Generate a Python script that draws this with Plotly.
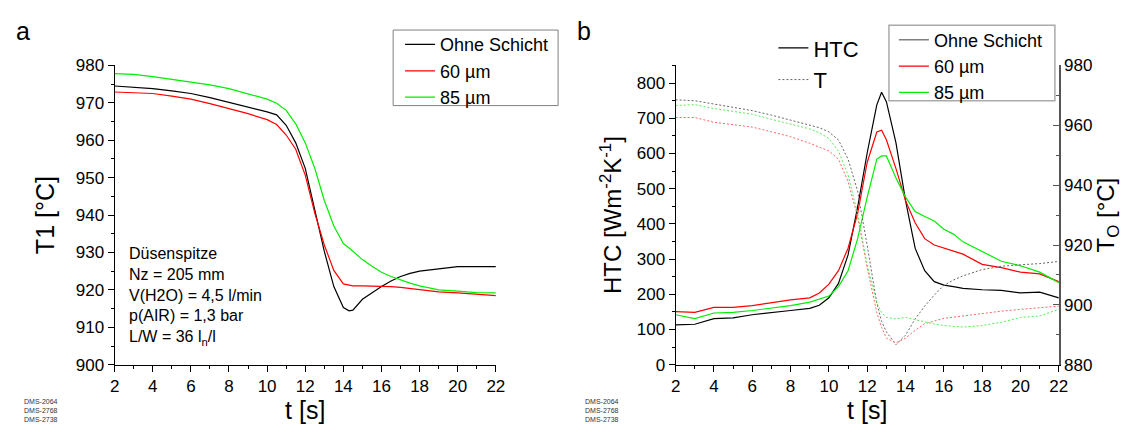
import plotly.graph_objects as go

# ---------------- Panel a: T1 vs t ----------------
t_a = [2, 3, 4, 5, 6, 7, 8, 9, 10, 10.5, 11, 11.5, 12, 12.5, 13, 13.5, 14, 14.3, 14.5, 15, 15.5, 16, 16.5, 17, 17.5, 18, 19, 20, 21, 22]
t1_ohne = [974.5, 974.2, 973.8, 973.2, 972.5, 971.4, 970.1, 969.0, 967.6, 966.8, 964.0, 959.3, 952.5, 941.4, 930.3, 920.9, 915.3, 914.4, 914.6, 917.5, 919.3, 920.9, 922.4, 923.6, 924.4, 925.0, 925.6, 926.2, 926.2, 926.2]
t1_60 = [972.9, 972.8, 972.5, 971.8, 971.0, 969.8, 968.5, 967.1, 965.5, 964.2, 961.4, 957.6, 950.7, 940.5, 932.0, 925.2, 921.6, 921.2, 921.1, 921.1, 921.1, 921.1, 920.9, 920.7, 920.4, 920.0, 919.5, 919.2, 918.9, 918.5]
t1_85 = [977.8, 977.6, 977.0, 976.3, 975.6, 974.8, 973.8, 972.5, 971.0, 969.9, 968.0, 964.4, 959.3, 952.5, 943.9, 937.1, 932.4, 931.2, 930.3, 928.1, 926.3, 924.7, 923.6, 922.6, 921.8, 921.1, 920.0, 919.7, 919.3, 919.2]

# ---------------- Panel b: HTC and T_O vs t ----------------
t_b = [2, 3, 4, 5, 6, 7, 8, 9, 9.5, 10, 10.5, 11, 11.5, 12, 12.5, 12.75, 13, 13.5, 14, 14.5, 15, 15.5, 16, 16.5, 17, 18, 19, 20, 21, 22]
htc_ohne = [113, 115, 131, 133, 142, 149, 154, 160, 169, 190, 231, 312, 448, 602, 738, 774, 747, 630, 466, 331, 267, 236, 226, 222, 217, 213, 211, 204, 206, 190]
htc_60 = [151, 149, 163, 163, 168, 177, 184, 190, 204, 229, 267, 331, 430, 575, 661, 666, 639, 557, 466, 403, 358, 340, 331, 323, 314, 285, 276, 263, 258, 236]
htc_85 = [142, 131, 147, 149, 154, 160, 168, 178, 186, 195, 222, 267, 358, 476, 584, 593, 593, 530, 476, 435, 421, 408, 385, 371, 349, 322, 294, 281, 263, 233]
to_ohne = [968.5, 968.2, 967.1, 966.0, 964.9, 963.4, 961.8, 960.2, 959.2, 957.8, 955.1, 948.7, 938.0, 919.8, 900.6, 894.5, 891.0, 886.7, 889.9, 895.3, 899.6, 903.3, 906.5, 908.3, 909.7, 911.8, 912.9, 913.4, 913.8, 914.5]
to_60 = [962.6, 962.6, 961.0, 960.2, 959.4, 957.8, 956.2, 954.0, 952.8, 951.4, 948.7, 941.2, 929.5, 912.4, 897.4, 892.5, 888.9, 887.3, 888.9, 891.5, 893.7, 894.7, 895.5, 895.9, 896.3, 897.2, 897.9, 898.5, 899.0, 899.6]
to_85 = [966.6, 966.9, 965.6, 964.7, 963.7, 962.0, 960.4, 958.8, 957.5, 955.6, 951.4, 943.4, 930.5, 913.4, 900.6, 897.5, 895.8, 895.3, 895.8, 895.0, 894.2, 893.6, 893.1, 892.8, 892.6, 893.1, 894.2, 895.8, 896.3, 898.5]

series_names = ["Ohne Schicht", "60 µm", "85 µm"]
colors = ["#000000", "#ff0000", "#00ee00"]

FONT = "Liberation Sans, Arial, sans-serif"

fig = go.Figure()

# Panel a traces
for name, col, ys in zip(series_names, colors, [t1_ohne, t1_60, t1_85]):
    fig.add_trace(go.Scatter(x=t_a, y=ys, mode="lines", name=name,
                             line=dict(color=col, width=1.2),
                             xaxis="x", yaxis="y", legend="legend"))

# Panel b: legend-only entry for "Ohne Schicht" (grey sample like the original)
fig.add_trace(go.Scatter(x=[None], y=[None], mode="lines", name=series_names[0],
                         line=dict(color="#808080", width=1.5),
                         xaxis="x2", yaxis="y2", legend="legend2"))

# HTC curves (solid)
fig.add_trace(go.Scatter(x=t_b, y=htc_ohne, mode="lines", name="HTC",
                         line=dict(color=colors[0], width=1.2),
                         xaxis="x2", yaxis="y2", legend="legend3"))
fig.add_trace(go.Scatter(x=t_b, y=htc_60, mode="lines", name=series_names[1],
                         line=dict(color=colors[1], width=1.2),
                         xaxis="x2", yaxis="y2", legend="legend2"))
fig.add_trace(go.Scatter(x=t_b, y=htc_85, mode="lines", name=series_names[2],
                         line=dict(color=colors[2], width=1.2),
                         xaxis="x2", yaxis="y2", legend="legend2"))

# Temperature curves (dotted, right axis)
fig.add_trace(go.Scatter(x=t_b, y=to_ohne, mode="lines", name="T",
                         line=dict(color="#666666", width=1, dash="2px,2px"),
                         xaxis="x2", yaxis="y3", legend="legend3"))
fig.add_trace(go.Scatter(x=t_b, y=to_60, mode="lines", name="T 60",
                         line=dict(color="#ff6666", width=1, dash="2px,2px"),
                         xaxis="x2", yaxis="y3", showlegend=False))
fig.add_trace(go.Scatter(x=t_b, y=to_85, mode="lines", name="T 85",
                         line=dict(color="#55ee55", width=1, dash="2px,2px"),
                         xaxis="x2", yaxis="y3", showlegend=False))

W, H = 1134, 435
ydom = [1 - 372 / H, 1 - 59 / H]

axis_common = dict(showline=True, linecolor="#000000", linewidth=1, showgrid=False,
                   zeroline=False, ticks="outside", ticklen=6, tickcolor="#000000",
                   tickfont=dict(family=FONT, size=17, color="#000000"))

fig.update_layout(
    width=W, height=H,
    margin=dict(l=0, r=0, t=0, b=0),
    paper_bgcolor="white", plot_bgcolor="white",
    font=dict(family=FONT, color="#000000"),
    xaxis=dict(domain=[111 / W, 497 / W], range=[2, 22], dtick=2, tick0=2, anchor="y",
               minor=dict(dtick=1, ticks="outside", ticklen=3, tickcolor="#000000"),
               title=dict(text="t [s]", font=dict(family=FONT, size=25), standoff=6),
               **axis_common),
    yaxis=dict(domain=ydom, range=[900, 980], dtick=10, tick0=900, anchor="x",
               minor=dict(dtick=5, ticks="outside", ticklen=3, tickcolor="#000000"),
               title=dict(text="T1 [°C]", font=dict(family=FONT, size=25), standoff=14),
               **axis_common),
    xaxis2=dict(domain=[679 / W, 1067 / W], range=[2, 22], dtick=2, tick0=2, anchor="y2",
                minor=dict(dtick=1, ticks="outside", ticklen=3, tickcolor="#000000"),
                title=dict(text="t [s]", font=dict(family=FONT, size=25), standoff=6),
                **axis_common),
    yaxis2=dict(domain=ydom, range=[0, 850], tick0=0, dtick=100, anchor="x2",
                minor=dict(dtick=50, ticks="outside", ticklen=3, tickcolor="#000000"),
                title=dict(text="HTC [Wm<sup>-2</sup>K<sup>-1</sup>]", font=dict(family=FONT, size=24), standoff=8),
                **axis_common),
    yaxis3=dict(range=[880, 980], tick0=880, dtick=20, anchor="x2", overlaying="y2", side="right",
                showline=True, linecolor="#555555", linewidth=1.5, showgrid=False, zeroline=False,
                ticks="inside", ticklen=6, tickcolor="#555555",
                tickfont=dict(family=FONT, size=17, color="#000000"),
                minor=dict(dtick=10, ticks="inside", ticklen=3, tickcolor="#555555"),
                title=dict(text="T<sub>O</sub> [°C]", font=dict(family=FONT, size=24), standoff=4)),
    legend=dict(x=400 / W, y=1 - 18 / H, xanchor="left", yanchor="top",
                bgcolor="rgba(0,0,0,0)", borderwidth=0,
                font=dict(family=FONT, size=18), tracegroupgap=0),
    legend2=dict(x=900 / W, y=1 - 13 / H, xanchor="left", yanchor="top",
                 bgcolor="rgba(0,0,0,0)", borderwidth=0,
                 font=dict(family=FONT, size=18), tracegroupgap=0),
    legend3=dict(x=778 / W, y=1 - 19 / H, xanchor="left", yanchor="top",
                 bgcolor="rgba(0,0,0,0)", borderwidth=0,
                 font=dict(family=FONT, size=22), tracegroupgap=0),
    showlegend=True,
)

# Legend frames
fig.add_shape(type="rect", xref="paper", yref="paper",
              x0=393 / W, x1=560 / W, y0=1 - 101 / H, y1=1 - 22 / H,
              line=dict(color="#808080", width=1), fillcolor="white", layer="below")
fig.add_shape(type="rect", xref="paper", yref="paper",
              x0=895 / W, x1=1063 / W, y0=1 - 96 / H, y1=1 - 17 / H,
              line=dict(color="#aaaaaa", width=1.5), fillcolor="white", layer="below")

# Panel letters
fig.add_annotation(text="a", x=9 / W, y=1 - 6 / H, xref="paper", yref="paper",
                   xanchor="left", yanchor="top", showarrow=False,
                   font=dict(family=FONT, size=25))
fig.add_annotation(text="b", x=577 / W, y=1 - 6 / H, xref="paper", yref="paper",
                   xanchor="left", yanchor="top", showarrow=False,
                   font=dict(family=FONT, size=25))

# Experimental conditions text in panel a
fig.add_annotation(text="Düsenspitze<br>Nz = 205 mm<br>V(H2O) = 4,5 l/min<br>p(AIR) = 1,3 bar<br>L/W = 36 l<sub>n</sub>/l",
                   x=124 / W, y=1 - 245 / H, xref="paper", yref="paper",
                   xanchor="left", yanchor="top", align="left", showarrow=False,
                   font=dict(family=FONT, size=16))

# Small sample IDs
for xpix in (17, 585):
    fig.add_annotation(text="DMS-2064<br>DMS-2768<br>DMS-2738",
                       x=xpix / W, y=1 - 405 / H, xref="paper", yref="paper",
                       xanchor="left", yanchor="top", align="left", showarrow=False,
                       font=dict(family=FONT, size=7, color="#333333"))

fig.write_html("out.html", config={"displayModeBar": False},
               post_script="document.body.style.margin='0px';document.body.style.overflow='hidden';")
